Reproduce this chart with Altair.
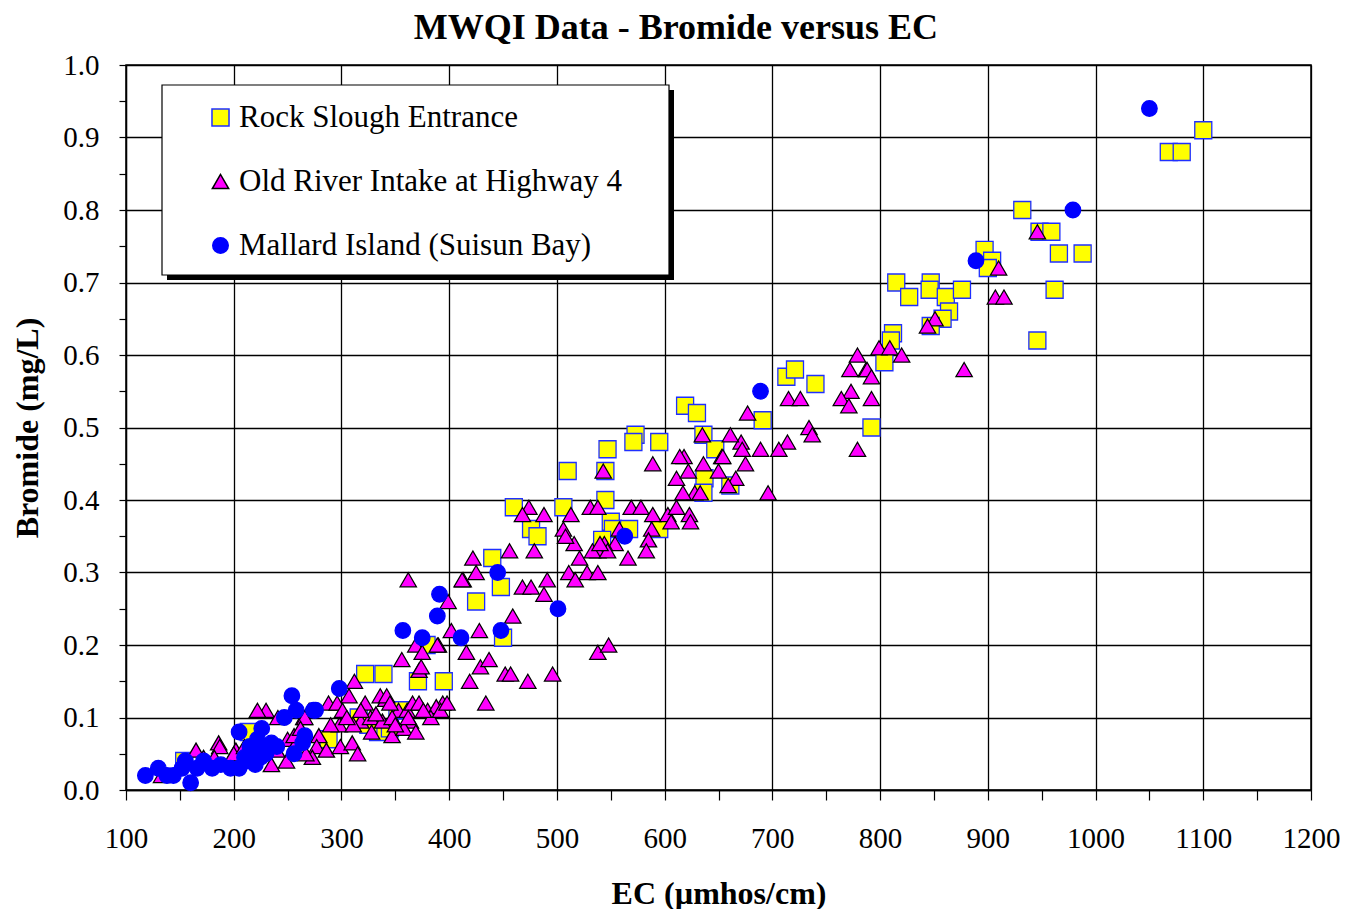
import altair as alt
import pandas as pd

stations = ["Rock Slough Entrance", "Old River Intake at Highway 4", "Mallard Island (Suisun Bay)"]

# Rock Slough Entrance (squares)
rs_ec = [1100, 1068, 1080, 932, 948, 959, 966, 988, 897, 904, 900, 962, 946, 815, 827, 847, 846, 861,
         876, 864, 858, 847, 812, 810, 804, 792, 713, 721, 740, 691, 619, 630, 573, 571, 595, 547, 636,
         647, 545, 510, 545, 637, 661, 636, 506, 460, 550, 552, 567, 595, 542, 476, 482, 440, 448, 425,
         450, 371, 395, 379, 322, 339, 352, 334, 288, 214, 154, 355, 325, 345, 316]
rs_br = [0.91, 0.88, 0.88, 0.80, 0.77, 0.77, 0.74, 0.74, 0.745, 0.73, 0.72, 0.69, 0.62, 0.70, 0.68, 0.70,
         0.69, 0.68, 0.69, 0.66, 0.65, 0.64, 0.63, 0.62, 0.59, 0.50, 0.57, 0.58, 0.56, 0.51, 0.53, 0.52,
         0.49, 0.48, 0.48, 0.47, 0.49, 0.47, 0.44, 0.44, 0.40, 0.43, 0.42, 0.41, 0.39, 0.39, 0.37, 0.36,
         0.36, 0.36, 0.345, 0.36, 0.35, 0.32, 0.28, 0.26, 0.21, 0.15, 0.15, 0.20, 0.16, 0.16, 0.11, 0.08,
         0.07, 0.08, 0.04, 0.11, 0.09, 0.085, 0.10]

# Old River Intake at Highway 4 (triangles)
or_ec = [946, 910, 907, 915, 878, 851, 844, 799, 809, 820, 787, 779, 772, 788, 792, 773, 764, 771, 792,
         779, 715, 726, 734, 737, 714, 706, 689, 677, 671, 661, 672, 675, 653, 635, 650, 589, 543, 618,
         614, 636, 654, 611, 622, 666, 696, 628, 617, 633, 659, 513, 531, 538, 569, 578, 589, 603, 611,
         623, 624, 606, 588, 506, 516, 508, 558, 585, 554, 544, 538, 521, 583, 566, 511, 528, 538, 474,
         468, 488, 533, 547, 540, 456, 479, 422, 425, 413, 468, 476, 491, 488, 517, 459, 428, 402, 399,
         390, 416, 362, 429, 437, 452, 457, 473, 496, 419, 538, 548, 369, 375, 356, 372, 412, 389, 374,
         434, 312, 307, 394, 336, 341, 322, 288, 296, 301, 353, 361, 318, 327, 338, 347, 364, 270, 230,
         222, 265, 241, 298, 311, 328, 347, 358, 369, 279, 250, 258, 277, 286, 299, 310, 315, 273, 267,
         202, 186, 133, 165, 172, 187, 182, 266, 235, 249, 342, 366, 372, 380, 388, 200, 210, 218, 240,
         256, 262, 290, 305, 332, 318, 345, 350, 383, 392, 398, 376, 362]
or_br = [0.77, 0.72, 0.68, 0.68, 0.58, 0.65, 0.64, 0.61, 0.61, 0.60, 0.58, 0.60, 0.58, 0.58, 0.57, 0.55,
         0.54, 0.53, 0.54, 0.47, 0.54, 0.54, 0.50, 0.49, 0.48, 0.47, 0.47, 0.52, 0.48, 0.49, 0.47, 0.45,
         0.46, 0.49, 0.44, 0.45, 0.44, 0.46, 0.46, 0.45, 0.46, 0.43, 0.44, 0.43, 0.41, 0.41, 0.41, 0.41,
         0.42, 0.38, 0.39, 0.39, 0.39, 0.39, 0.38, 0.38, 0.39, 0.38, 0.37, 0.37, 0.36, 0.36, 0.34, 0.35,
         0.36, 0.345, 0.34, 0.34, 0.33, 0.32, 0.33, 0.32, 0.30, 0.30, 0.30, 0.39, 0.38, 0.38, 0.33, 0.33,
         0.34, 0.33, 0.33, 0.32, 0.30, 0.29, 0.28, 0.28, 0.29, 0.27, 0.29, 0.24, 0.22, 0.22, 0.26, 0.20,
         0.19, 0.29, 0.17, 0.18, 0.16, 0.16, 0.15, 0.16, 0.15, 0.19, 0.20, 0.20, 0.19, 0.18, 0.165, 0.29,
         0.20, 0.17, 0.12, 0.15, 0.13, 0.12, 0.13, 0.125, 0.12, 0.12, 0.12, 0.11, 0.11, 0.11, 0.095, 0.10,
         0.095, 0.10, 0.095, 0.11, 0.11, 0.11, 0.10, 0.10, 0.09, 0.09, 0.08, 0.075, 0.085, 0.08, 0.075,
         0.07, 0.065, 0.06, 0.055, 0.06, 0.065, 0.05, 0.045, 0.05, 0.055, 0.065, 0.02, 0.055, 0.045, 0.06,
         0.045, 0.10, 0.035, 0.04, 0.13, 0.12, 0.12, 0.11, 0.115, 0.05, 0.06, 0.05, 0.055, 0.075, 0.085,
         0.09, 0.10, 0.105, 0.11, 0.12, 0.09, 0.10, 0.11, 0.12, 0.11, 0.10]

# Mallard Island (Suisun Bay) (circles)
mi_ec = [1050, 979, 889, 689, 563, 501, 445, 448, 411, 391, 389, 375, 357, 298, 274, 254, 258, 276, 247,
         118, 130, 138, 144, 152, 155, 160, 166, 172, 180, 188, 197, 205, 205, 210, 215, 222, 226, 230,
         235, 240, 256, 266, 264, 212, 218, 225, 228, 220]
mi_br = [0.94, 0.80, 0.73, 0.55, 0.35, 0.25, 0.30, 0.22, 0.21, 0.27, 0.24, 0.21, 0.22, 0.14, 0.11, 0.13,
         0.11, 0.11, 0.10, 0.02, 0.03, 0.02, 0.02, 0.03, 0.04, 0.01, 0.03, 0.04, 0.03, 0.035, 0.03, 0.03,
         0.08, 0.045, 0.06, 0.07, 0.085, 0.05, 0.065, 0.06, 0.05, 0.075, 0.065, 0.04, 0.05, 0.045, 0.06,
         0.035]

x_ticks = list(range(100, 1201, 50))
y_ticks = [round(i * 0.05, 2) for i in range(21)]

df = pd.concat([
    pd.DataFrame({"EC": rs_ec, "Bromide": rs_br, "Station": stations[0]}),
    pd.DataFrame({"EC": or_ec, "Bromide": or_br, "Station": stations[1]}),
    pd.DataFrame({"EC": mi_ec, "Bromide": mi_br, "Station": stations[2]}),
], ignore_index=True)
df["z"] = range(len(df))

SERIF = "Liberation Serif"

leg = alt.Legend(
    title=None, orient="none", legendX=79, legendY=37,
    labelFont=SERIF, labelFontSize=31, labelColor="black", labelLimit=700,
    labelOffset=3, rowPadding=32, padding=0, symbolOpacity=1,
)

enc_kwargs = dict(
    x=alt.X("EC:Q", scale=alt.Scale(domain=[100, 1200], nice=False, zero=False),
            axis=alt.Axis(
                title="EC (µmhos/cm)", values=x_ticks,
                labelExpr="datum.value % 100 == 0 ? datum.label : ''",
                format="d",
                gridOpacity={"condition": {"test": "datum.value % 100 == 0", "value": 1}, "value": 0},
                tickSize=10, labelPadding=24, titlePadding=25,
                labelOverlap=False, labelFlush=False)),
    y=alt.Y("Bromide:Q", scale=alt.Scale(domain=[0, 1], nice=False),
            axis=alt.Axis(
                title="Bromide (mg/L)", values=y_ticks,
                labelExpr="round(datum.value*100) % 10 == 0 ? format(datum.value, '.1f') : ''",
                gridOpacity={"condition": {"test": "round(datum.value*100) % 10 == 0", "value": 1}, "value": 0},
                tickSize=7, labelPadding=20, titlePadding=18,
                labelOverlap=False, labelFlush=False)),
    shape=alt.Shape("Station:N", scale=alt.Scale(domain=stations, range=["square", "triangle-up", "circle"]), legend=leg),
    fill=alt.Fill("Station:N", scale=alt.Scale(domain=stations, range=["#ffff00", "#ff00ff", "#0000ff"]), legend=leg),
    stroke=alt.Stroke("Station:N", scale=alt.Scale(domain=stations, range=["#1f2fff", "#000000", "#0000ff"]), legend=leg),
    size=alt.Size("Station:N", scale=alt.Scale(domain=stations, range=[290, 240, 170]), legend=leg),
    order=alt.Order("z:Q"),
)

points = alt.Chart(df).mark_point(filled=True, opacity=1, strokeWidth=1.3).encode(**enc_kwargs)

dummy = alt.Data(values=[{"a": 1}])
shadow = alt.Chart(dummy).mark_rect(color="black").encode(
    x=alt.value(41), x2=alt.value(548), y=alt.value(25), y2=alt.value(215))
box = alt.Chart(dummy).mark_rect(fill="white", stroke="black", strokeWidth=1.2).encode(
    x=alt.value(36), x2=alt.value(543), y=alt.value(20), y2=alt.value(210))

chart = alt.layer(shadow, box, points).properties(
    width=1185, height=725,
    padding={"left": 3, "top": 2, "right": 0, "bottom": 0},
    title=alt.TitleParams("MWQI Data - Bromide versus EC", font=SERIF, fontSize=36,
                          fontWeight="bold", anchor="middle", frame="bounds", offset=4, color="black"),
).configure_view(stroke="black", strokeWidth=1.5).configure_axis(
    gridColor="black", gridWidth=1.3, domainColor="black", domainWidth=1.3,
    tickColor="black", tickWidth=1.2,
    labelFont=SERIF, labelFontSize=29, labelColor="black",
    titleFont=SERIF, titleFontSize=32, titleFontWeight="bold", titleColor="black",
)

chart.save("out.html", embed_options={"renderer": "svg", "actions": False})
